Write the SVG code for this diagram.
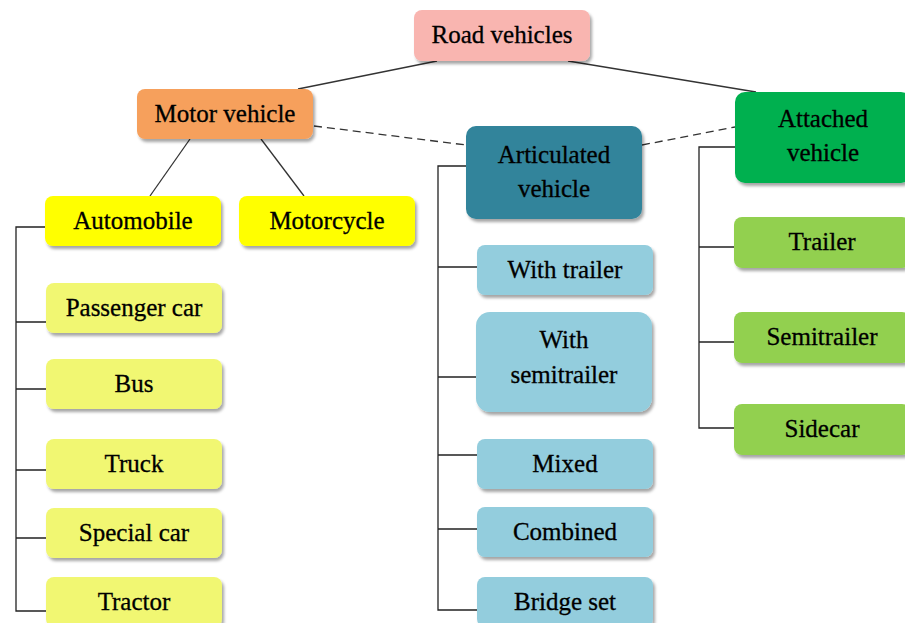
<svg xmlns="http://www.w3.org/2000/svg" width="905" height="623" viewBox="0 0 905 623">
<defs>
<filter id="sh" x="-10%" y="-10%" width="125%" height="140%">
<feDropShadow dx="2" dy="3" stdDeviation="1.8" flood-color="#000" flood-opacity="0.35"/>
</filter>
<style>
.box{filter:url(#sh);}
text{font-family:'Liberation Serif','Times New Roman',serif;font-size:25px;fill:#000;text-anchor:middle;stroke:#000;stroke-width:0.3;}
.ln{stroke:#333;stroke-width:1.3;fill:none;}
.dash{stroke:#333;stroke-width:1.3;fill:none;stroke-dasharray:8 5;}
.br{stroke:#222;stroke-width:1.3;fill:none;}
</style>
</defs>
<rect width="905" height="623" fill="#fff"/>
<g id="connectors">
<line class="ln" x1="437" y1="61" x2="298" y2="89"/>
<line class="ln" x1="568" y1="61" x2="756" y2="92"/>
<line class="ln" x1="190" y1="139" x2="150" y2="196"/>
<line class="ln" x1="261" y1="139" x2="304" y2="196"/>
<line class="dash" x1="314" y1="126" x2="466" y2="145"/>
<line class="dash" x1="642" y1="145" x2="735" y2="127"/>
<path class="br" d="M45 227 H16 V611 H46 M16 322 H46 M16 389 H46 M16 470 H46 M16 538 H46"/>
<path class="br" d="M466 166 H438 V610 H477 M438 267 H477 M438 377 H477 M438 455 H477 M438 529 H477"/>
<path class="br" d="M735 147 H699 V428 H734 M699 247 H734 M699 342 H734"/>
</g>
<g id="road"><rect class="box" x="414" y="10" width="176" height="51" rx="8" fill="#F9B5B0"/><text x="502" y="43">Road vehicles</text></g>
<g id="motor"><rect class="box" x="137" y="89" width="176" height="50" rx="8" fill="#F6A05C"/><text x="225" y="122">Motor vehicle</text></g>
<g id="articulated"><rect class="box" x="466" y="126" width="176" height="93" rx="10" fill="#31849B"/><text x="554" y="163">Articulated</text><text x="554" y="197">vehicle</text></g>
<g id="attached"><rect class="box" x="735" y="92" width="176" height="91" rx="10" fill="#00B050"/><text x="823" y="127">Attached</text><text x="823" y="161">vehicle</text></g>
<g id="automobile"><rect class="box" x="45" y="196" width="176" height="50" rx="8" fill="#FFFF00"/><text x="133" y="229">Automobile</text></g>
<g id="motorcycle"><rect class="box" x="239" y="196" width="176" height="50" rx="8" fill="#FFFF00"/><text x="327" y="229">Motorcycle</text></g>
<g id="passenger"><rect class="box" x="46" y="283" width="176" height="50" rx="8" fill="#F1F772"/><text x="134" y="316">Passenger car</text></g>
<g id="bus"><rect class="box" x="46" y="359" width="176" height="50" rx="8" fill="#F1F772"/><text x="134" y="392">Bus</text></g>
<g id="truck"><rect class="box" x="46" y="439" width="176" height="50" rx="8" fill="#F1F772"/><text x="134" y="472">Truck</text></g>
<g id="special"><rect class="box" x="46" y="508" width="176" height="50" rx="8" fill="#F1F772"/><text x="134" y="541">Special car</text></g>
<g id="tractor"><rect class="box" x="46" y="577" width="176" height="50" rx="8" fill="#F1F772"/><text x="134" y="610">Tractor</text></g>
<g id="withtrailer"><rect class="box" x="477" y="245" width="176" height="50" rx="8" fill="#93CDDD"/><text x="565" y="278">With trailer</text></g>
<g id="withsemi"><rect class="box" x="476" y="312" width="176" height="100" rx="14" fill="#93CDDD"/><text x="564" y="348">With</text><text x="564" y="383">semitrailer</text></g>
<g id="mixed"><rect class="box" x="477" y="439" width="176" height="50" rx="8" fill="#93CDDD"/><text x="565" y="472">Mixed</text></g>
<g id="combined"><rect class="box" x="477" y="507" width="176" height="50" rx="8" fill="#93CDDD"/><text x="565" y="540">Combined</text></g>
<g id="bridge"><rect class="box" x="477" y="577" width="176" height="50" rx="8" fill="#93CDDD"/><text x="565" y="610">Bridge set</text></g>
<g id="trailer"><rect class="box" x="734" y="217" width="176" height="51" rx="8" fill="#92D050"/><text x="822" y="250">Trailer</text></g>
<g id="semitrailer"><rect class="box" x="734" y="312" width="176" height="51" rx="8" fill="#92D050"/><text x="822" y="345">Semitrailer</text></g>
<g id="sidecar"><rect class="box" x="734" y="404" width="176" height="51" rx="8" fill="#92D050"/><text x="822" y="437">Sidecar</text></g>
</svg>
